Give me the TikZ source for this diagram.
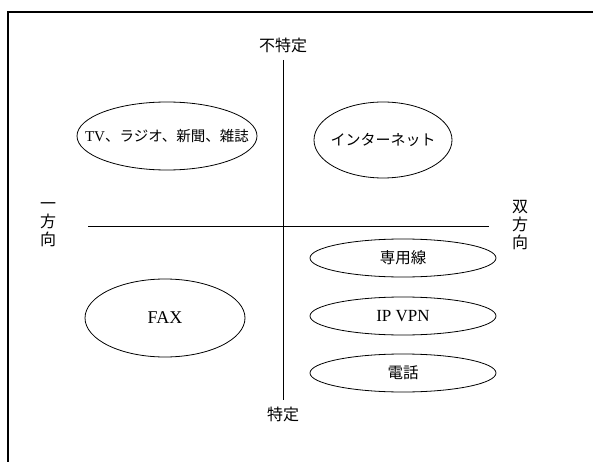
\documentclass[tikz,border=0pt]{standalone}
\usepackage{fontspec}
\setmainfont{Liberation Serif}
\newfontfamily\jp{Noto Sans CJK JP}
\usetikzlibrary{shapes.geometric}
\begin{document}
\begin{tikzpicture}[x=1pt,y=-1pt,
  oval/.style={draw, ellipse, inner sep=0pt, line width=0.8pt},
  axisline/.style={line width=1pt},
  jptext/.style={font=\jp\fontsize{16}{16}\selectfont, inner sep=0pt}]
\useasboundingbox (0,0) rectangle (593,462);
\fill[white] (0,0) rectangle (593,462);
% frame (only top and left edges fall in the picture)
\coordinate (ftl) at (8,12);
\coordinate (ftr) at (600,12);
\coordinate (fbl) at (8,470);
\draw[line width=1.2pt] (fbl) -- (ftl) -- (ftr);
% axes
\node[jptext] (top) at (283,45) {不特定};
\node[jptext] (bottom) at (283,414) {特定};
\coordinate (vt) at (283,60);
\coordinate (vb) at (283,400);
\draw[axisline] (vt) -- (vb);
\coordinate (hl) at (88,226);
\coordinate (hr) at (489,226);
\draw[axisline] (hl) -- (hr);
\node[jptext, align=center, font=\jp\fontsize{16}{18}\selectfont] (left) at (48,225) {一\\方\\向};
\node[jptext, align=center, font=\jp\fontsize{16}{18}\selectfont] (right) at (520,225) {双\\方\\向};
% ellipses
\node[oval, minimum width=180pt, minimum height=68pt] (tv) at (167,136)
  {\makebox[0pt]{\fontsize{15}{15}\selectfont TV\jp\fontsize{14.5}{14.5}\selectfont 、ラジオ、新聞、雑誌}};
\node[oval, minimum width=138pt, minimum height=76pt] (net) at (383,140)
  {\makebox[0pt]{\jp\fontsize{15}{15}\selectfont インターネット}};
\node[oval, minimum width=160pt, minimum height=78pt] (fax) at (165,318)
  {\makebox[0pt]{\fontsize{18}{18}\selectfont FAX}};
\node[oval, minimum width=186pt, minimum height=38pt] (sen) at (403,258)
  {\makebox[0pt]{\jp\fontsize{15.5}{15.5}\selectfont 専用線}};
\node[oval, minimum width=186pt, minimum height=38pt] (ipvpn) at (403,316)
  {\makebox[0pt]{\fontsize{17}{17}\selectfont IP VPN}};
\node[oval, minimum width=186pt, minimum height=38pt] (tel) at (403,373)
  {\makebox[0pt]{\jp\fontsize{15.5}{15.5}\selectfont 電話}};
\end{tikzpicture}
\end{document}
